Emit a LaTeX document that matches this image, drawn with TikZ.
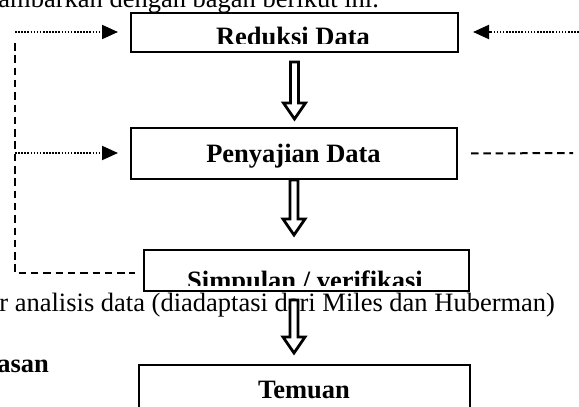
\documentclass[tikz,border=0pt]{standalone}
\usepackage{fontspec}
\setmainfont{Liberation Serif}
\usetikzlibrary{arrows.meta,calc}

\tikzset{
  box/.style={draw, line width=1pt, fill=white, inner sep=0pt},
  boxtext/.style={font=\fontsize{13.25}{15}\selectfont\bfseries, inner sep=0pt, anchor=base},
  plaintext/.style={font=\fontsize{13.25}{15}\selectfont, inner sep=0pt},
  dots/.style={line width=1pt, dash pattern=on 0.8pt off 0.75pt,
    -{Triangle[length=8pt,width=7pt]}},
  dashes/.style={line width=1pt, dash pattern=on 3.75pt off 2.4pt},
  bigarrow/.style={line width=1.4pt, fill=white, to path={
    let \p1=(\tikztostart), \p2=(\tikztotarget) in
    (\x1-2pt,\y1) -- (\x1-2pt,\y2+8pt) -- (\x1-5.5pt,\y2+8pt) -- (\x1,\y2)
    -- (\x1+5.5pt,\y2+8pt) -- (\x1+2pt,\y2+8pt) -- (\x1+2pt,\y1) -- cycle}}
}

\begin{document}
\begin{tikzpicture}[x=0.5pt,y=-0.5pt]
\useasboundingbox (0,0) rectangle (579,407);
\clip (0,0) rectangle (579,407);
%text around the chart
\node[plaintext, anchor=base west] (intro) at (-2,7) {ambarkan dengan bagan berikut ini.};
\node[plaintext, anchor=base west, font=\fontsize{13.25}{15}\selectfont\bfseries] (heading) at (-3,372) {asan};
\node[plaintext, anchor=base west] (caption) at (-1,311)
     {r analisis data (diadaptasi dari Miles dan Huberman)};
%boxes
\node[box, minimum width=163.5pt, minimum height=19.5pt] (reduksi) at (294.5,32.5) {};
\node[box, minimum width=163pt, minimum height=25.5pt] (penyajian) at (294,153.5) {};
\node[box, minimum width=162.5pt, minimum height=20.5pt] (simpulan) at (306.5,270.5) {};
\node[box, minimum width=165.5pt, minimum height=32.5pt] (temuan) at (304,397.5) {};
%box labels
\begin{scope}
  \clip (0,0) rectangle (579,43.5);
  \node[boxtext] (reduksiText) at (293,46) {Reduksi Data};
\end{scope}
\node[boxtext] (penyajianText) at (293.5,162) {Penyajian Data};
\begin{scope}
  \clip (0,200) rectangle (579,285.5);
  \node[boxtext] (simpulanText) at (305,289) {Simpulan / verifikasi};
\end{scope}
\node[boxtext] (temuanText) at (304,398) {Temuan};
%feedback loop
\coordinate (loopStart) at (15,43);
\coordinate (loopTop) at (15,32);
\coordinate (loopMid) at (15,153);
\coordinate (loopEnd) at (135,273);
\coordinate (rightTop) at (585,32);
\coordinate (rightMid) at (573,153);
\draw[dashes] (loopStart) |- (loopEnd);
\draw[dots, shorten >=6pt] (loopTop) -- (loopTop -| reduksi.west);
\draw[dots, shorten >=6pt] (loopMid) -- (loopMid -| penyajian.west);
\draw[dots, shorten >=7pt] (rightTop) -- (rightTop -| reduksi.east);
\draw[dashes] ([xshift=6.5pt]penyajian.east) -- (rightMid);
%flow
\draw[bigarrow] ([yshift=-4.5pt]reduksi.south) to ([yshift=4pt]penyajian.north);
\draw[bigarrow] (penyajian.south) to ([yshift=7pt]simpulan.north);
\draw[bigarrow] ($(simpulan.south -| penyajian.south)+(0,-4pt)$)
     to ($(temuan.north -| penyajian.south)+(0,5.5pt)$);
\end{tikzpicture}
\end{document}
